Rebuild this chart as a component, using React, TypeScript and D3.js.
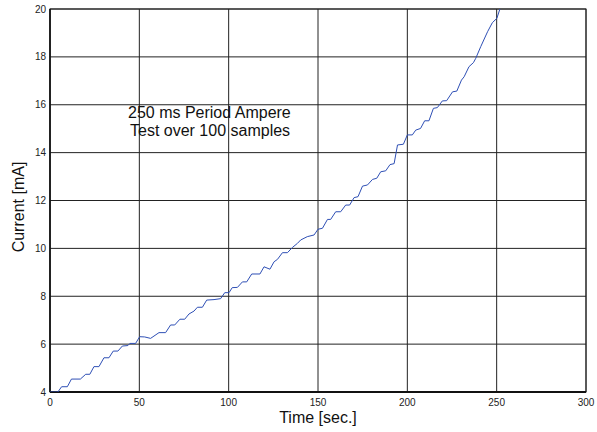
import React from "react";
import * as d3 from "d3";

const timeSec = [0, 4.4, 6.5, 9.7, 12, 17, 20, 22.3, 24.6, 27.4, 30.2, 33, 35.4, 38, 40.5, 43.6, 44.7, 47.9, 50.2, 53, 56.3, 61, 64.7, 67.5, 69.8, 72.7, 75.4, 77.8, 80.6, 82.5, 85.3, 87.7, 91.8, 95.5, 97.8, 100.2, 102, 104.9, 107.7, 110.1, 112.9, 117.5, 119.8, 123.1, 125.4, 127.3, 130.1, 132.9, 135.7, 138.5, 140.3, 144, 147.8, 150, 152.5, 155.3, 157.1, 159.9, 162.7, 165.5, 167.7, 170.2, 172.4, 174.9, 177.7, 180.5, 182.9, 185.1, 187.9, 190.3, 192.6, 194.5, 197.8, 200, 202.8, 204.7, 207.4, 209.7, 212.1, 214.6, 216.8, 219.6, 222, 225.3, 227.7, 230.3, 231.8, 234.5, 237, 238.3, 241.1, 244.9, 247.6, 250.1, 252.7];
const currentMA = [4.0, 4.0, 4.22, 4.22, 4.54, 4.54, 4.74, 4.74, 5.06, 5.06, 5.43, 5.43, 5.71, 5.71, 5.92, 5.94, 6.03, 6.03, 6.31, 6.3, 6.24, 6.48, 6.48, 6.8, 6.8, 7.04, 7.04, 7.26, 7.38, 7.54, 7.54, 7.84, 7.86, 7.9, 8.15, 8.15, 8.36, 8.37, 8.6, 8.6, 8.93, 8.93, 9.23, 9.13, 9.44, 9.54, 9.82, 9.82, 10.04, 10.21, 10.35, 10.49, 10.56, 10.8, 10.84, 11.21, 11.21, 11.53, 11.53, 11.81, 11.81, 12.12, 12.16, 12.6, 12.65, 12.88, 12.93, 13.2, 13.24, 13.5, 13.54, 14.32, 14.35, 14.74, 14.74, 14.94, 15.01, 15.33, 15.33, 15.85, 15.88, 16.16, 16.17, 16.54, 16.57, 17.03, 17.17, 17.59, 17.76, 17.94, 18.43, 19.05, 19.43, 19.61, 20.2];

const xTicks = [0, 50, 100, 150, 200, 250, 300];
const yTicks = [4, 6, 8, 10, 12, 14, 16, 18, 20];
const annotation = ["250 ms Period Ampere", "Test over 100 samples"];
const xTitle = "Time [sec.]";
const yTitle = "Current [mA]";

export default function App() {
  const W = 597, H = 432;
  const left = 50, right = 586, top = 9, bottom = 392;
  const x = d3.scaleLinear().domain([0, 300]).range([left, right]);
  const y = d3.scaleLinear().domain([4, 20]).range([bottom, top]);
  const pts = timeSec.map((t, i) => [t, currentMA[i]] as [number, number]);
  const line = d3.line<[number, number]>().x(d => x(d[0])).y(d => y(d[1]))(pts) || "";
  const font = "Liberation Sans, Arial, sans-serif";
  return (
    <svg width={W} height={H} style={{ position: "absolute", left: 0, top: 0, background: "#fff" }}>
      <defs>
        <clipPath id="plot">
          <rect x={left} y={top} width={right - left} height={bottom - top} />
        </clipPath>
      </defs>
      {xTicks.map(t => (
        <line key={"gx" + t} x1={x(t)} x2={x(t)} y1={top} y2={bottom} stroke="#222" strokeWidth={1} />
      ))}
      {yTicks.map(t => (
        <line key={"gy" + t} x1={left} x2={right} y1={y(t)} y2={y(t)} stroke="#222" strokeWidth={1} />
      ))}
      <rect x={left} y={top} width={right - left} height={bottom - top} fill="none" stroke="#222" strokeWidth={1} />
      <line x1={left} x2={right} y1={bottom} y2={bottom} stroke="#111" strokeWidth={2} />
      <line x1={left} x2={left} y1={top} y2={bottom} stroke="#111" strokeWidth={1.5} />
      <path d={line} fill="none" stroke="#2e4fb5" strokeWidth={1} clipPath="url(#plot)" />
      {xTicks.map(t => (
        <text key={"tx" + t} x={x(t)} y={406} fontSize={10} fontFamily={font} textAnchor="middle" fill="#222">{t}</text>
      ))}
      {yTicks.map(t => (
        <text key={"ty" + t} x={46} y={y(t) + 3.5} fontSize={10} fontFamily={font} textAnchor="end" fill="#222">{t}</text>
      ))}
      <text x={318} y={423} fontSize={16} fontFamily={font} textAnchor="middle" fill="#111">{xTitle}</text>
      <text transform={`translate(24,207) rotate(-90)`} fontSize={16} fontFamily={font} textAnchor="middle" fill="#111">{yTitle}</text>
      <text x={128} y={118} fontSize={16} fontFamily={font} fill="#111">{annotation[0]}</text>
      <text x={130} y={136} fontSize={16} fontFamily={font} fill="#111">{annotation[1]}</text>
    </svg>
  );
}
